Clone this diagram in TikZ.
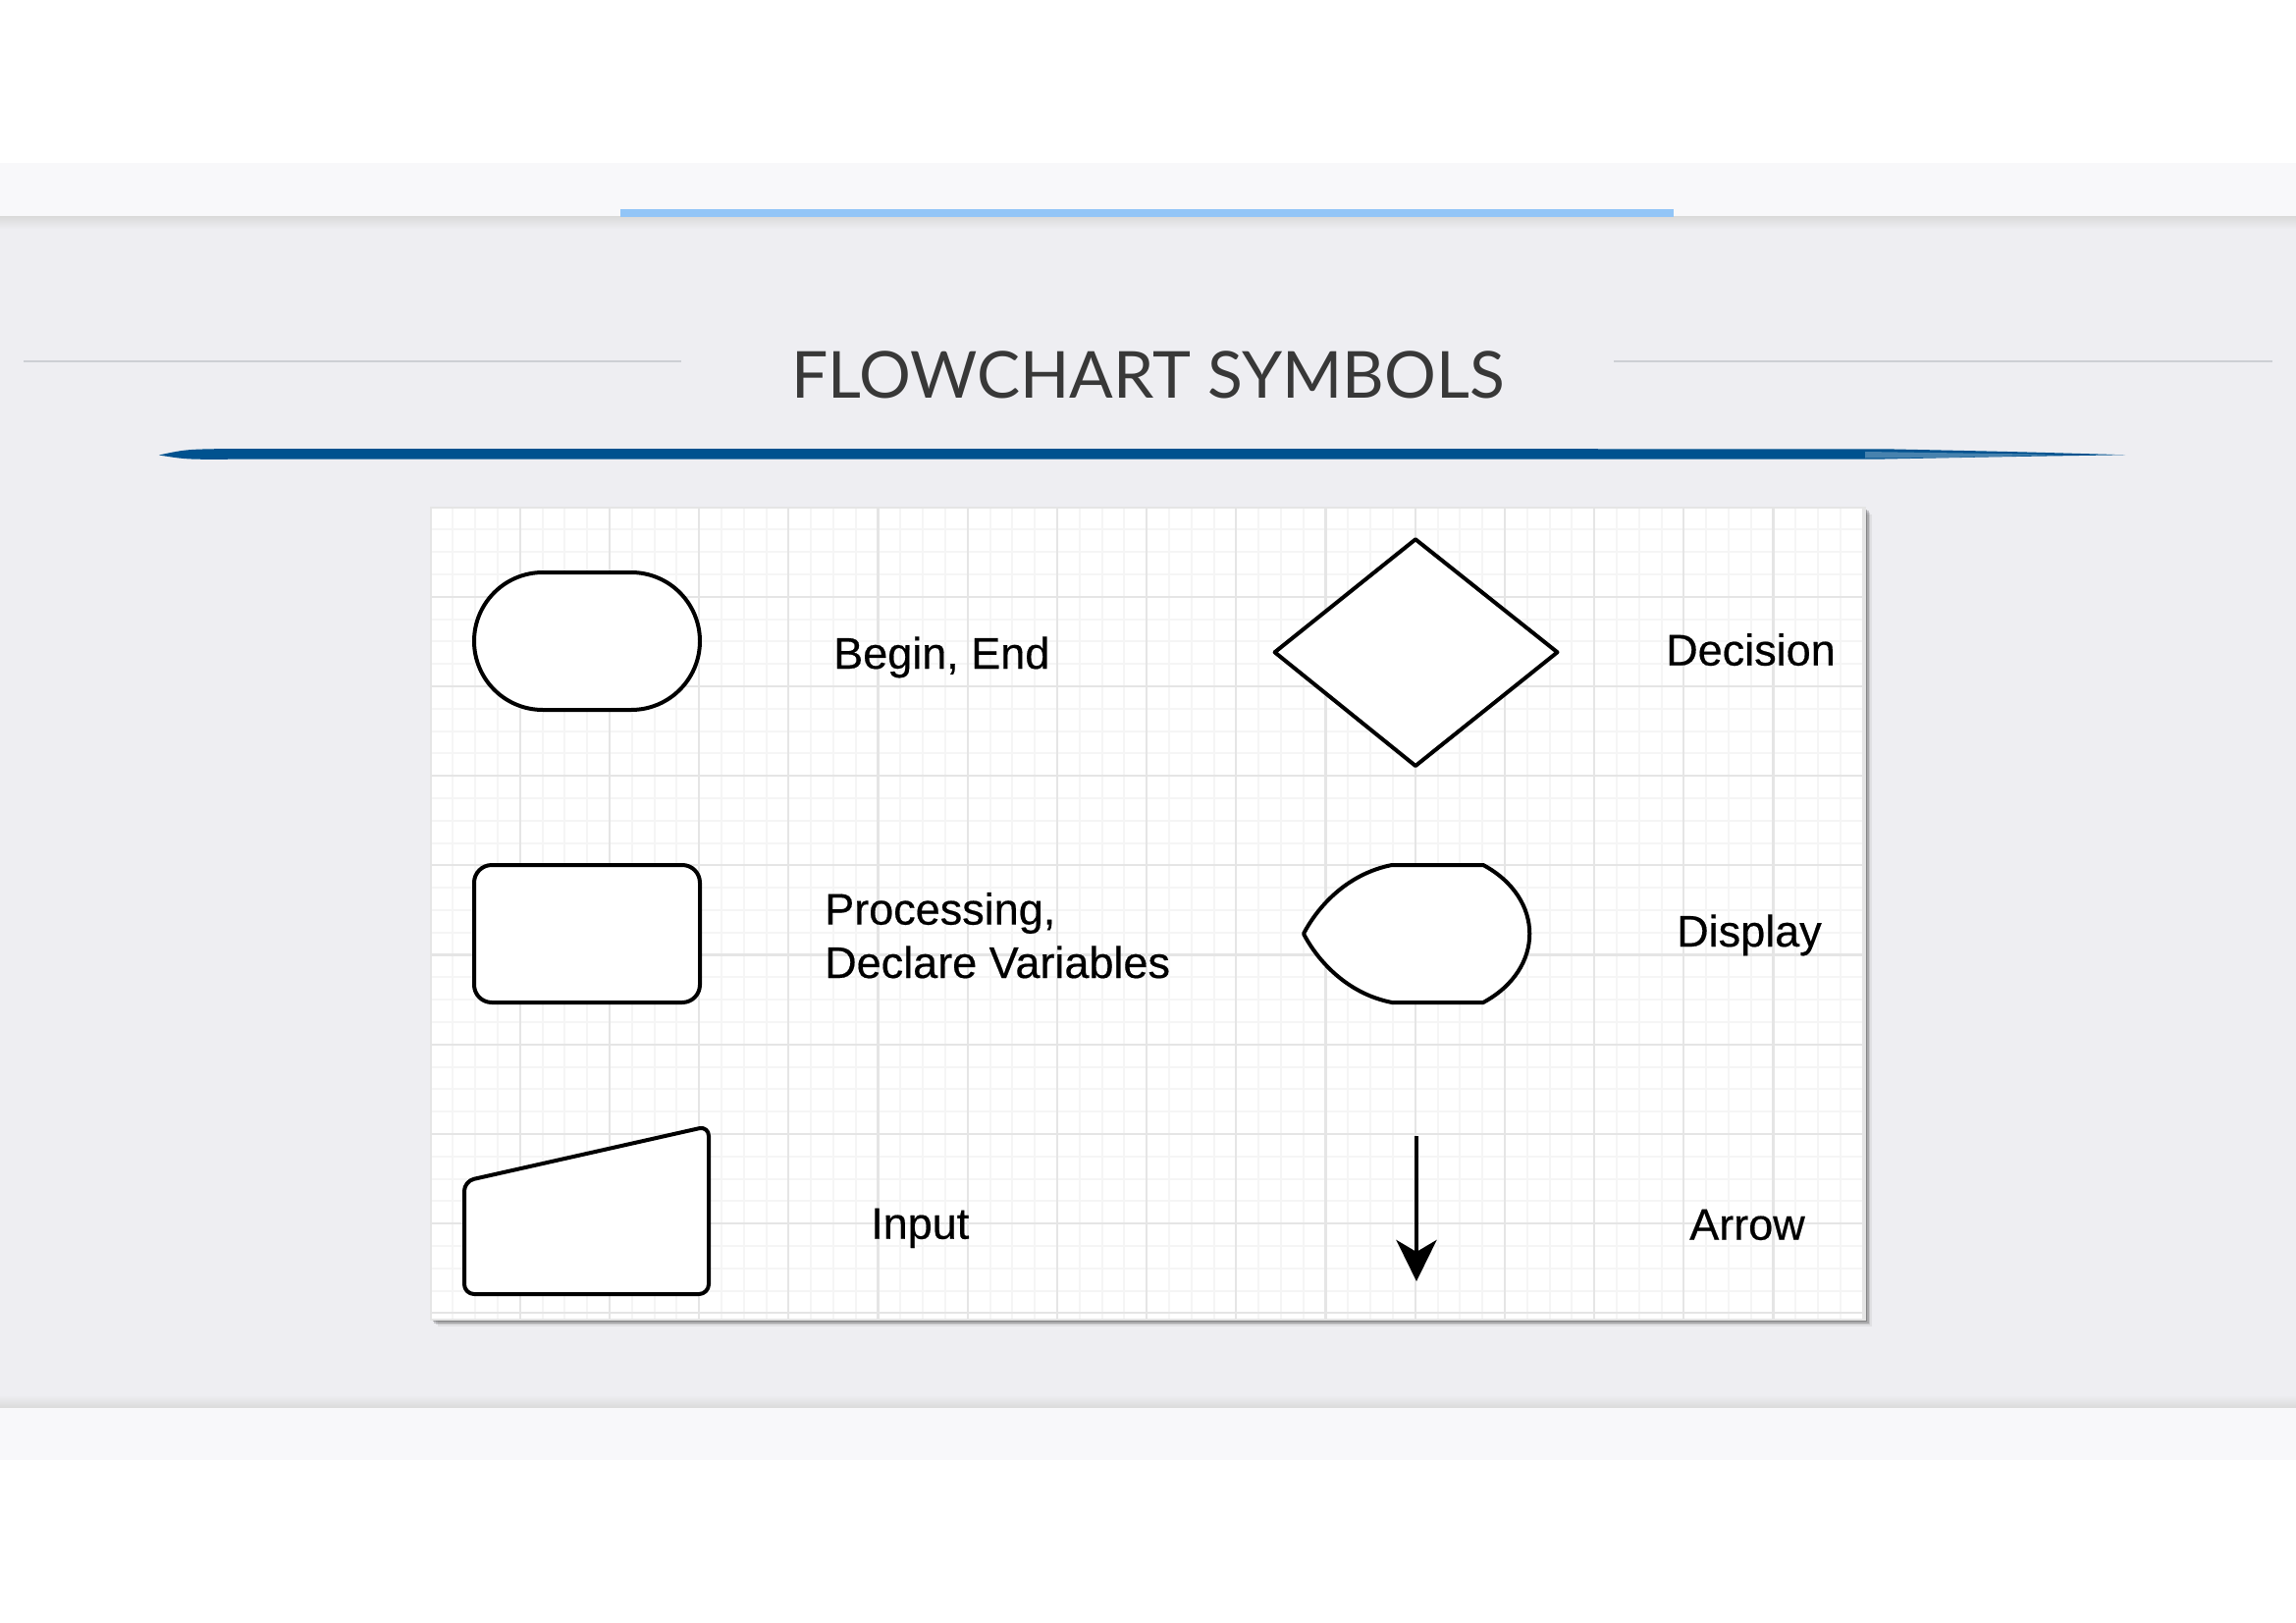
\documentclass[tikz,border=0pt]{standalone}
\usepackage{fontspec}
\setmainfont[FakeBold=0.4]{Liberation Sans}
\newfontfamily\titlefont{Lato}
\usetikzlibrary{arrows.meta}
\tikzset{>=latex}
\usepackage{xcolor}
\definecolor{pagecol}{HTML}{EEEEF2}
\definecolor{bandcol}{HTML}{F8F8FA}
\definecolor{barcol}{HTML}{92C5F7}
\definecolor{brushcol}{HTML}{00528F}
\definecolor{rulecol}{HTML}{CDCFD4}
\definecolor{titlecol}{HTML}{383838}
\colorlet{minorcol}{black!4}
\colorlet{majorcol}{black!10}
\tikzstyle{symbol}=[line width=4pt,black,fill=white,line join=round]
\tikzstyle{symlabel}=[font=\fontsize{45}{54.4}\selectfont,inner sep=0,anchor=base west]
\tikzstyle{flowarrow}=[-{Stealth[length=42pt,width=41pt,inset=12pt]},line width=4.8pt]

\begin{document}
\begin{tikzpicture}[x=1pt,y=-1pt]
  \def\PL{438.5}
  \def\PT{516.5}
  \def\PR{1900}
  \def\PB{1344}
  \def\g{22.8}

  \useasboundingbox (0,0) rectangle (2339,1653);

  % PAGE
  \fill[white] (0,0) rectangle (2339,1653);
  \fill[pagecol] (0,221) rectangle (2339,1433);
  \fill[bandcol] (0,166) rectangle (2339,221);
  \fill[bandcol] (0,1433) rectangle (2339,1487);
  \shade[top color=black!14,bottom color=pagecol] (0,221) rectangle (2339,233);
  \shade[top color=pagecol,bottom color=black!14] (0,1421) rectangle (2339,1433);
  \fill[barcol] (632,213) rectangle (1705,221);

  % TITLE
  \draw[rulecol,line width=2pt] (24,368) -- (694,368);
  \draw[rulecol,line width=2pt] (1644,368) -- (2315,368);
  \node[titlecol,inner sep=0,anchor=base,font=\titlefont\fontsize{66}{70}\selectfont]
    (title) at (1169.5,405) {FLOWCHART SYMBOLS};
  \fill[brushcol]
    (162,463.5) .. controls (190,457.5) .. (240,457) -- (1920,457.3)
    .. controls (2050,460) .. (2165,463.3) .. controls (2050,465) .. (1920,467.5)
    -- (240,467.7) .. controls (190,468) .. (162,463.5) -- cycle;
  \fill[brushcol!60,opacity=0.7]
    (1900,460) .. controls (2000,461) .. (2100,463) .. controls (2000,466) .. (1900,466.5) -- cycle;

  % PANEL
  \foreach \s/\o in {7/0.06,5/0.10,3.5/0.16,2/0.22}{
    \fill[black,opacity=\o] (\PL+\s,\PT+\s) rectangle (\PR+\s,\PB+\s);
  }
  \fill[white] (\PL,\PT) rectangle (\PR,\PB);
  \begin{scope}
    \clip (\PL,\PT) rectangle (\PR,\PB);
    \foreach \i in {0,...,64}{
      \draw[minorcol,line width=2pt] (\PL+\i*\g,\PT) -- ++(0,830);
    }
    \foreach \i in {0,...,37}{
      \draw[minorcol,line width=2pt] (\PL,\PT+\i*\g) -- ++(1470,0);
    }
    \foreach \i in {0,...,16}{
      \draw[majorcol,line width=2.2pt] (\PL+\i*4*\g,\PT) -- ++(0,830);
    }
    \foreach \i in {0,...,9}{
      \draw[majorcol,line width=2.2pt] (\PL,\PT+\i*4*\g) -- ++(1470,0);
    }
  \end{scope}
  \draw[majorcol,line width=1.5pt] (\PL,\PT) rectangle (\PR,\PB);

  % SYMBOLS
  \draw[symbol,rounded corners=70] (483,583) rectangle (713,723);
  \draw[symbol,rounded corners=18] (483,881) rectangle (713,1021);
  \draw[symbol,rounded corners=10] (473,1203) -- (722,1147) -- (722,1318) -- (473,1318) -- cycle;
  \draw[symbol] (1298.6,664.3) -- (1442,549.3) -- (1586.5,664.3) -- (1442,780) -- cycle;
  \draw[symbol]
    (1418,881) -- (1511,881) .. controls (1574,915) and (1574,987) .. (1511,1021)
    -- (1418,1021) .. controls (1372,1012) and (1342,978) .. (1328,951)
    .. controls (1342,924) and (1372,890) .. (1418,881) -- cycle;

  % ARROW
  \coordinate (arrowtop) at (1443,1157);
  \coordinate (arrowtip) at (1443,1305);
  \draw[flowarrow] (arrowtop) -- (arrowtip);

  % LABELS
  \node[symlabel] (beginend) at (849,681) {Begin, End};
  \node[symlabel,align=left] (process) at (840,996) {Processing,\\Declare Variables};
  \node[symlabel] (input) at (887,1261.7) {Input};
  \node[symlabel] (decision) at (1697,677.7) {Decision};
  \node[symlabel] (display) at (1708,964) {Display};
  \node[symlabel] (arrow) at (1721,1262.7) {Arrow};

\end{tikzpicture}
\end{document}
